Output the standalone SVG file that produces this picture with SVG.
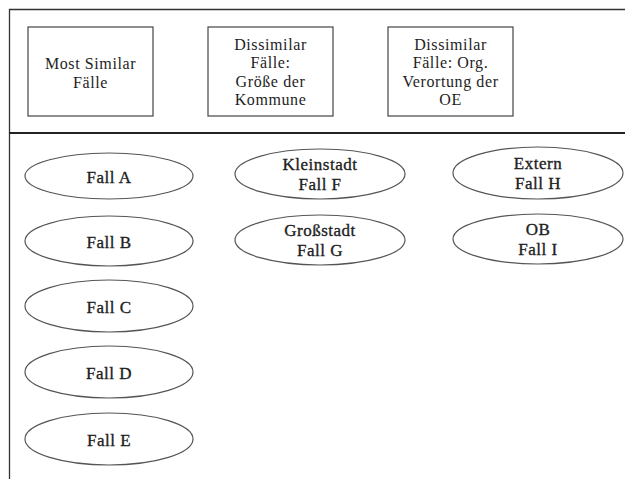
<svg xmlns="http://www.w3.org/2000/svg" width="625" height="479" viewBox="0 0 625 479">
<style>
.frame{fill:none;stroke:#333;stroke-width:1.3}
.div{stroke:#222;stroke-width:2}
.box{fill:#fff;stroke:#444;stroke-width:1.2}
.ell{fill:#fff;stroke:#555;stroke-width:1.2}
text{font-family:"Liberation Serif","Times New Roman",serif;font-size:16px;letter-spacing:0.6px;fill:#1e1e1e;text-anchor:middle;dominant-baseline:central}
.e text{font-size:17px;letter-spacing:0.5px;stroke:#1e1e1e;stroke-width:0.35}
</style>
<rect width="625" height="479" fill="#fff"/>
<g id="frame">
<path class="frame" d="M625 9.5 H9.5 V479"/>
<line class="div" x1="9" y1="133" x2="625" y2="133"/>
</g>
<g id="h1"><rect class="box" x="28" y="27" width="125" height="89"/>
<text x="90.5" y="63">Most Similar</text><text x="90.5" y="82">Fälle</text></g>
<g id="h2"><rect class="box" x="208" y="27" width="125" height="89"/>
<text x="270.5" y="44">Dissimilar</text><text x="270.5" y="62.5">Fälle:</text><text x="270.5" y="81">Größe der</text><text x="270.5" y="99.5">Kommune</text></g>
<g id="h3"><rect class="box" x="388" y="27" width="125" height="89"/>
<text x="450.5" y="44">Dissimilar</text><text x="450.5" y="62.5">Fälle: Org.</text><text x="450.5" y="81">Verortung der</text><text x="450.5" y="99.5">OE</text></g>
<g class="e">
<g id="fa"><ellipse class="ell" cx="109" cy="176" rx="84" ry="23"/><text x="109" y="177">Fall A</text></g>
<g id="fb"><ellipse class="ell" cx="109" cy="241" rx="84" ry="25"/><text x="109" y="242">Fall B</text></g>
<g id="fc"><ellipse class="ell" cx="109" cy="306" rx="84" ry="26"/><text x="109" y="307">Fall C</text></g>
<g id="fd"><ellipse class="ell" cx="109" cy="372" rx="84" ry="26"/><text x="109" y="373">Fall D</text></g>
<g id="fe"><ellipse class="ell" cx="109" cy="439" rx="84" ry="26"/><text x="109" y="440">Fall E</text></g>
<g id="ff"><ellipse class="ell" cx="320" cy="174" rx="85" ry="25"/><text x="320" y="164">Kleinstadt</text><text x="320" y="184">Fall F</text></g>
<g id="fg"><ellipse class="ell" cx="320" cy="240" rx="85" ry="25"/><text x="320" y="230">Großstadt</text><text x="320" y="250">Fall G</text></g>
<g id="fh"><ellipse class="ell" cx="538" cy="173" rx="85" ry="26"/><text x="538" y="163">Extern</text><text x="538" y="183">Fall H</text></g>
<g id="fi"><ellipse class="ell" cx="538" cy="239" rx="85" ry="25"/><text x="538" y="229">OB</text><text x="538" y="249">Fall I</text></g>
</g>
<g id="connectors"></g>
</svg>
